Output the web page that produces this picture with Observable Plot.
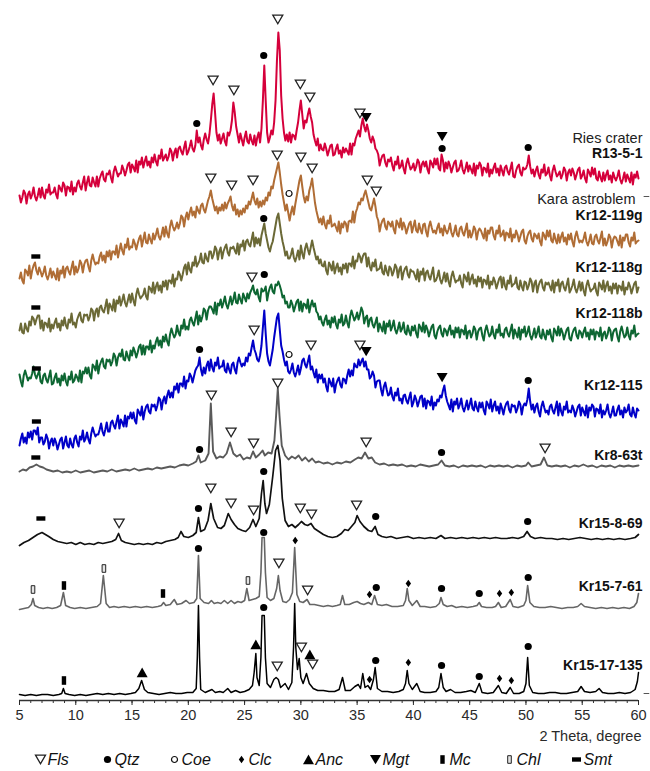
<!DOCTYPE html>
<html><head><meta charset="utf-8">
<script src="https://cdn.jsdelivr.net/npm/d3@7"></script>
<script src="https://cdn.jsdelivr.net/npm/@observablehq/plot@0.6"></script>
<style>body{margin:0;background:#fff;} #chart svg{display:block;}</style>
</head><body><div id="chart"></div>
<script>
// ---------- DATA ----------
// noisy scans: intensity every 0.125 degree from 5 to 60 (2 Theta), one row per degree
const X0 = 5, STEP = 0.125;
const scanR13 = [
 5,-2,3,10,7,-3,6,9, 2,6,13,4,0,5,12,3, 13,5,2,11,8,16,6,8, 8,13,6,2,15,12,9,18, 15,5,14,13,9,19,6,13,
 9,17,20,14,11,18,24,10, 18,24,15,14,23,18,14,24, 14,22,26,29,21,19,27,26, 30,23,18,29,34,29,24,27, 27,35,31,25,30,36,38,28,
 36,33,29,40,28,39,36,43, 33,39,44,35,39,33,43,38, 46,39,35,45,42,51,40,43, 46,40,44,52,49,40,48,52, 43,52,54,49,46,53,59,46,
 49,54,60,52,49,55,70,58, 63,55,51,61,67,61,57,66, 80,96,107,88,68,60,66,57, 62,67,59,55,68,65,70,80, 98,88,74,66,58,67,61,55,
 63,69,59,57,66,60,56,65, 55,63,68,58,72,100,135,100, 68,58,63,70,66,78,100,140, 168,150,105,82,68,60,66,59, 68,58,66,65,61,70,78,90,
 100,86,72,80,78,86,92,84, 78,66,60,55,62,50,56,51, 50,57,52,45,50,55,56,45, 46,52,56,47,50,43,53,48, 52,49,46,57,46,57,55,62,
 66,70,64,75,82,74,69,76, 70,62,58,64,60,52,50,46, 35,41,45,46,38,34,41,39, 43,35,30,39,36,44,32,34, 40,32,27,37,42,36,31,33,
 37,30,34,41,38,28,36,39, 34,39,31,27,40,37,33,42, 36,42,32,30,46,40,29,38, 32,39,35,28,33,38,40,29, 30,34,40,31,27,32,38,29,
 35,31,27,37,25,35,32,38, 35,25,33,32,28,37,24,31, 27,33,37,28,32,25,35,30, 25,33,35,29,26,32,38,24, 23,30,34,36,28,25,33,31,
 32,36,45,34,27,31,24,30, 34,26,22,31,28,36,25,27, 33,25,20,30,35,29,24,26, 29,22,26,33,30,20,28,31, 25,32,28,21,26,31,33,22,
 25,30,22,18,31,28,24,33, 26,32,22,20,29,23,19,28, 20,26,30,21,25,18,28,23, 20,24,30,21,17,22,28,19, 26,22,18,28,16,26,23,29,
 22];
const scanKr119g = [
 2,8,0,-3,11,9,5,15, 2,10,15,18,10,6,13,9, 4,8,14,5,1,6,12,3, 9,5,1,12,0,10,7,14, 3,12,14,9,6,13,19,6,
 14,8,12,20,17,8,16,20, 21,14,9,20,26,20,16,18, 17,24,28,20,25,18,29,24, 30,21,29,29,26,35,23,30, 37,30,26,36,33,42,31,34,
 33,41,37,31,37,42,45,34, 41,48,38,37,46,41,37,47, 41,46,52,44,41,46,53,44, 54,47,43,54,60,54,50,53, 58,52,57,65,63,54,63,68,
 61,68,73,65,69,63,74,70, 67,75,77,71,68,74,80,84, 90,82,76,70,74,67,73,70, 76,70,78,72,77,80,84,75, 70,76,66,71,64,70,66,72,
 68,75,72,79,76,82,88,80, 76,82,73,79,74,80,76,83, 80,88,85,94,92,100,106,112, 118,108,96,86,78,70,76,68, 60,68,74,66,76,84,92,100,
 105,94,84,78,84,80,90,95, 102,90,78,70,64,58,62,56, 64,56,52,60,57,65,54,55, 57,53,49,59,47,57,53,59, 57,49,59,60,58,69,58,68,
 72,78,76,82,80,86,90,84, 78,72,70,76,82,74,64,60, 49,56,60,62,54,51,59,57, 54,59,51,47,60,57,53,62, 51,58,54,47,52,57,59,48,
 54,60,50,48,57,51,47,56, 57,49,44,54,59,53,48,50, 47,53,57,48,52,45,55,50, 47,51,57,48,44,49,55,46, 44,52,54,48,45,51,57,43,
 50,43,47,54,51,41,49,52, 50,46,42,52,40,50,47,53, 53,45,41,50,47,55,44,46, 50,40,48,47,43,52,39,46, 43,50,46,39,44,49,51,40,
 37,44,48,50,42,39,47,45, 42,47,39,35,48,45,41,50, 44,50,40,38,47,41,37,46, 38,44,48,39,43,36,46,41, 47,39,34,44,49,43,38,40,
 38,42,48,39,35,40,46,37, 36,44,46,40,37,43,49,35, 42,35,39,46,43,33,41,44, 43,39,35,45,33,43,40,46, 46,38,34,43,40,48,37,39,
 40];
const scanKr118g = [
 5,12,3,2,12,7,4,14, 10,19,17,11,16,20,20,7, 15,5,13,12,8,17,4,11, 7,13,17,8,12,5,15,10, 18,10,7,16,13,22,11,13,
 8,16,20,23,15,13,21,20, 21,15,19,27,25,15,24,27, 19,28,30,25,23,29,36,22, 32,29,25,36,24,35,32,39, 30,35,41,33,29,35,41,33,
 42,35,30,41,47,41,37,39, 41,47,39,36,49,47,43,53, 42,49,53,45,50,43,54,49, 55,46,55,55,52,61,49,57, 56,64,61,55,61,68,71,61,
 73,66,63,73,70,79,69,72, 75,82,73,72,82,77,74,84, 84,77,81,89,86,76,84,88, 77,84,88,91,83,80,88,87, 89,85,82,92,81,91,89,95,
 85,94,96,91,89,96,103,89, 98,92,97,90,100,106,112,102, 95,88,84,90,94,102,110,118, 122,112,102,94,88,80,84,77, 77,81,87,78,74,79,85,76,
 90,82,77,87,92,86,81,88, 95,88,82,76,79,72,76,70, 69,74,65,61,73,70,65,74, 62,68,72,64,68,61,71,67, 72,63,72,72,69,79,67,75,
 74,82,79,73,79,82,82,69, 78,69,65,73,69,76,65,66, 67,73,63,61,70,64,60,69, 67,60,64,71,68,58,66,69, 56,63,67,69,61,58,66,64,
 64,60,56,66,54,64,61,67, 55,63,65,59,56,62,68,54, 55,59,65,56,52,57,63,54, 62,54,49,59,64,58,53,55, 55,60,52,48,61,58,54,63,
 51,57,61,52,56,49,59,54, 58,48,56,55,51,60,47,54, 51,58,54,47,52,57,59,48, 58,50,46,55,52,60,49,51, 52,58,48,46,55,49,45,54,
 53,46,50,57,54,44,52,55, 43,50,54,56,48,45,53,51, 53,49,45,55,43,53,50,56, 44,52,54,48,45,51,57,43, 46,50,56,47,43,48,54,45,
 53,45,40,50,55,49,44,46, 47,52,44,40,53,50,46,55, 44,50,54,45,49,42,52,47, 52,42,50,49,45,54,41,48, 46,53,49,42,47,52,54,43,
 48];
const scanKr118b = [
 11,4,-1,10,15,10,5,8, 7,12,19,11,7,11,15,4, 2,10,12,6,3,9,15,1, 2,8,12,3,7,0,10,5, 12,4,0,9,6,14,3,5,
 11,8,4,15,3,14,12,18, 12,18,10,7,21,19,15,25, 12,20,24,27,19,17,26,24, 26,20,24,32,29,20,28,32, 29,36,26,25,34,29,25,35,
 30,38,34,28,33,39,41,31, 40,31,39,39,36,45,33,40, 37,44,48,40,45,38,49,44, 51,44,40,51,57,52,48,51, 60,53,50,60,57,66,56,59,
 56,65,68,63,60,67,74,61, 70,64,69,77,75,66,75,79, 79,76,72,83,71,82,80,86, 78,83,89,81,77,83,89,81, 86,93,83,82,91,86,82,92,
 88,84,92,87,93,96,100,93, 91,96,88,84,97,94,95,99, 85,93,98,101,94,92,101,100, 104,100,95,88,90,82,84,78, 78,85,81,74,79,84,86,75,
 84,74,82,81,77,86,73,80, 85,79,82,74,72,66,69,63, 60,66,70,61,65,58,68,63, 69,61,57,66,63,71,60,62, 70,63,58,69,75,70,65,68,
 73,66,71,78,74,62,68,70, 59,66,68,61,58,63,68,54, 62,58,54,64,52,62,59,65, 55,59,65,56,52,57,63,54, 57,63,53,51,60,54,50,59,
 55,60,52,48,61,58,54,63, 53,60,56,49,54,59,61,50, 47,54,58,60,52,49,57,55, 50,56,60,51,55,48,58,53, 58,48,56,55,51,60,47,54,
 55,48,52,59,56,46,54,57, 58,50,45,55,60,54,49,51, 59,51,47,56,53,61,50,52, 48,56,58,52,49,55,61,47, 56,52,48,58,46,56,53,59,
 49,53,59,50,46,51,57,48, 53,59,49,47,56,50,46,55, 51,56,48,44,57,54,50,59, 50,57,53,46,51,56,58,47, 45,52,56,58,50,47,55,53,
 48,54,58,49,53,46,56,51, 56,46,54,53,49,58,45,52, 54,47,51,58,55,45,53,56, 57,49,44,54,59,53,48,50, 58,50,46,55,52,60,49,51,
 52];
const scanKr115 = [
 0,7,12,3,8,2,13,8, 14,6,15,15,11,18,3,8, 8,1,4,11,7,-3,4,7, 0,7,3,-4,1,6,8,-3, 3,9,0,-2,7,1,-2,7,
 10,3,-1,9,6,15,4,7, 13,6,2,12,18,13,9,11, 11,16,22,14,10,16,23,14, 14,23,25,20,17,24,30,17, 26,23,19,30,19,29,27,33,
 27,33,25,22,36,33,30,39, 26,34,39,41,34,32,41,39, 41,35,40,48,46,36,45,49, 42,50,55,48,53,48,59,56, 62,53,62,62,59,69,57,65,
 64,72,69,63,69,75,78,80, 88,76,70,78,72,80,84,75, 86,78,74,83,80,88,77,79, 79,85,75,73,82,76,72,81, 83,76,72,83,88,83,79,82,
 80,88,84,92,90,98,105,96, 92,86,84,90,100,118,135,112, 92,84,80,88,96,108,118,128, 132,116,100,94,86,80,84,74, 72,76,82,73,69,74,80,71,
 77,85,87,81,78,84,90,76, 79,73,68,76,63,71,67,71, 63,67,59,54,67,63,59,67, 53,61,65,68,61,58,67,66, 62,70,76,69,75,70,82,79,
 78,86,80,84,87,79,84,76, 76,67,69,74,70,58,64,65, 65,56,50,59,63,56,50,51, 58,49,45,53,50,57,45,47, 42,50,51,45,42,48,53,39,
 43,50,46,39,44,49,50,39, 47,37,45,44,40,49,36,43, 40,46,44,50,48,55,60,50, 44,40,36,46,34,44,41,47, 37,41,47,38,34,39,45,36,
 41,47,37,35,44,38,34,43, 38,43,35,31,44,41,37,46, 34,40,44,35,39,32,42,37, 31,38,42,44,36,33,41,39, 40,33,37,44,41,31,39,42,
 40,46,57,44,36,41,33,39, 42,34,29,39,44,38,33,35, 31,39,41,35,32,38,44,30, 42,34,30,39,36,44,33,35, 33,40,36,29,34,39,41,30,
 38,34,30,40,28,38,35,41, 39,29,37,36,32,41,28,35, 31,35,41,32,28,33,39,30, 30,36,40,31,35,28,38,33, 35,41,31,29,38,32,28,37,
 35];

// crystalline scans: [2 Theta, intensity]
const scanKr8 = [[5,4],[5.3,6],[5.6,5],[5.9,8],[6.2,9],[6.5,11],[6.8,9],[7.1,8],[7.4,6],[7.7,5],[8,4],[8.4,5],[8.8,3],[9.2,4],[9.6,3],[10,5],[10.4,3],[10.8,4],[11.2,5],[11.6,3],[12,4],[12.4,5],[12.8,4],[13.2,6],[13.6,4],[14,5],[14.4,6],[14.8,5],[15.2,7],[15.6,5],[16,6],[16.4,7],[16.8,6],[17.2,8],[17.6,7],[18,8],[18.4,9],[18.8,8],[19.2,10],[19.6,11],[20,10],[20.4,12],[20.7,14],[20.9,20],[21.1,13],[21.5,15],[21.8,22],[22.0,72],[22.2,24],[22.5,17],[22.8,19],[23.1,18],[23.4,22],[23.7,33],[24.0,22],[24.3,19],[24.6,21],[24.9,16],[25.2,18],[25.5,17],[25.75,24],[26.0,18],[26.3,21],[26.6,25],[26.8,20],[27.1,23],[27.4,22],[27.65,35],[27.8,60],[27.95,87],[28.1,60],[28.3,30],[28.6,20],[28.9,16],[29.2,19],[29.5,17],[29.8,20],[30.1,15],[30.4,18],[30.7,14],[31.0,17],[31.3,13],[31.6,14],[32,12],[32.4,13],[32.8,11],[33.2,13],[33.6,12],[34,14],[34.4,13],[34.8,16],[35.1,18],[35.4,17],[35.7,23],[36.0,17],[36.3,18],[36.6,13],[37,11],[37.4,12],[37.8,10],[38.2,11],[38.6,10],[39,11],[39.4,9],[39.8,10],[40.2,9],[40.6,11],[41,10],[41.4,9],[41.8,10],[42.2,11],[42.5,15],[42.8,10],[43.2,9],[43.6,10],[44,8],[44.4,10],[44.8,9],[45.2,10],[45.6,9],[46,10],[46.4,8],[46.8,10],[47.2,9],[47.6,10],[48,9],[48.4,10],[48.8,8],[49.2,10],[49.6,9],[50,10],[50.2,13],[50.5,9],[50.9,10],[51.3,11],[51.6,18],[51.9,10],[52.3,9],[52.7,10],[53.1,9],[53.5,10],[53.9,8],[54.3,10],[54.7,9],[55.1,11],[55.5,9],[55.9,10],[56.3,8],[56.7,10],[57.1,9],[57.5,10],[57.9,8],[58.3,10],[58.7,9],[59.1,10],[59.5,9],[60,10]];
const scanKr15_8 = [[5,3],[5.4,6],[5.8,8],[6.2,11],[6.6,14],[7.0,16],[7.3,14],[7.6,12],[8.0,9],[8.4,7],[8.8,6],[9.2,5],[9.6,6],[10,4],[10.4,6],[10.8,4],[11.2,5],[11.6,4],[12,6],[12.4,5],[12.8,6],[13.2,7],[13.55,9],[13.8,15],[14.05,8],[14.4,6],[14.8,5],[15.2,4],[15.6,5],[16,4],[16.4,5],[16.8,4],[17.2,6],[17.6,5],[18,7],[18.4,8],[18.8,9],[19.1,11],[19.35,17],[19.6,12],[20,11],[20.4,13],[20.7,16],[20.9,31],[21.1,17],[21.45,19],[21.75,28],[22.0,45],[22.25,30],[22.6,21],[22.9,20],[23.2,23],[23.55,35],[23.8,29],[24.1,24],[24.4,20],[24.8,18],[25.1,17],[25.45,21],[25.75,29],[26.0,22],[26.3,30],[26.5,55],[26.65,68],[26.8,45],[26.95,35],[27.2,44],[27.5,72],[27.75,98],[27.95,103],[28.15,88],[28.35,50],[28.6,28],[28.9,22],[29.2,24],[29.5,21],[29.8,24],[30.05,27],[30.35,24],[30.6,23],[30.9,25],[31.2,20],[31.6,17],[32,14],[32.4,12],[32.8,11],[33.2,12],[33.6,15],[33.9,19],[34.2,18],[34.5,22],[34.8,26],[35.0,33],[35.25,27],[35.6,22],[36.0,18],[36.3,17],[36.6,22],[36.85,14],[37.2,12],[37.6,11],[38,12],[38.5,10],[39,11],[39.5,12],[40,10],[40.5,11],[41,10],[41.5,11],[42,10],[42.45,13],[42.8,10],[43.3,11],[43.8,10],[44.3,11],[44.8,10],[45.3,11],[45.8,10],[46.3,11],[46.8,10],[47.3,11],[47.8,10],[48.3,10],[48.8,11],[49.3,10],[49.8,12],[50.1,17],[50.4,12],[50.8,10],[51.3,11],[51.8,10],[52.3,10],[52.8,9],[53.3,10],[53.8,9],[54.3,10],[54.8,11],[55.3,10],[55.8,9],[56.3,10],[56.8,9],[57.3,10],[57.8,9],[58.3,10],[58.8,9],[59.3,10],[59.7,11],[60,14]];
const scanKr15_7 = [[5,3],[5.4,4],[5.8,5],[6.05,8],[6.2,14],[6.35,7],[6.7,5],[7.1,4],[7.5,5],[7.9,4],[8.3,5],[8.65,7],[8.9,20],[9.1,7],[9.5,5],[9.9,4],[10.4,5],[10.9,4],[11.4,5],[11.9,6],[12.2,9],[12.45,37],[12.7,9],[13.0,5],[13.4,6],[13.8,5],[14.3,6],[14.8,5],[15.3,6],[15.8,5],[16.3,6],[16.8,5],[17.3,6],[17.6,7],[17.8,10],[18.0,7],[18.4,8],[18.75,13],[19.0,8],[19.4,9],[19.8,12],[20.1,9],[20.5,10],[20.75,14],[20.9,57],[21.05,14],[21.4,10],[21.8,9],[22.05,12],[22.3,9],[22.6,10],[22.9,9],[23.2,12],[23.5,9],[23.8,12],[24.1,9],[24.4,11],[24.7,10],[25.0,12],[25.2,24],[25.4,12],[25.7,13],[26.0,14],[26.3,16],[26.45,40],[26.55,75],[26.75,75],[26.85,40],[27.0,15],[27.3,12],[27.6,14],[27.85,24],[28.0,37],[28.15,22],[28.4,11],[28.7,10],[29.0,13],[29.25,20],[29.45,65],[29.65,18],[29.9,11],[30.2,10],[30.55,13],[30.8,8],[31.2,8],[31.6,7],[32.0,6],[32.4,7],[32.8,6],[33.2,7],[33.5,8],[33.7,17],[33.9,8],[34.3,8],[34.7,10],[35.0,11],[35.3,9],[35.6,8],[36.0,10],[36.3,8],[36.55,17],[36.8,8],[37.2,7],[37.6,8],[38.1,6],[38.6,6],[39.1,7],[39.3,12],[39.45,24],[39.6,12],[39.9,7],[40.3,12],[40.6,6],[41.0,6],[41.5,5],[42.0,6],[42.3,9],[42.45,15],[42.65,8],[43.0,6],[43.4,7],[43.8,5],[44.3,6],[44.8,5],[45.3,6],[45.65,7],[45.85,10],[46.05,6],[46.5,5],[47.0,5],[47.3,6],[47.55,10],[47.8,5],[48.2,6],[48.6,13],[48.85,6],[49.3,5],[49.8,7],[50.0,12],[50.15,27],[50.35,10],[50.7,6],[51.2,5],[51.7,5],[52.2,6],[52.7,5],[53.2,4],[53.7,5],[54.2,5],[54.6,6],[54.9,9],[55.2,6],[55.7,5],[56.2,4],[56.7,5],[57.2,4],[57.7,5],[58.2,4],[58.7,5],[59.2,4],[59.6,6],[59.85,10],[60,19]];
const scanKr15_17 = [[5,3],[5.5,2],[6,3],[6.5,2],[7,3],[7.5,3],[8,2],[8.5,3],[8.75,4],[8.9,9],[9.05,4],[9.4,3],[9.9,2],[10.4,3],[10.9,2],[11.4,3],[11.9,4],[12.4,3],[12.9,4],[13.4,3],[13.9,4],[14.4,3],[14.9,4],[15.3,5],[15.6,9],[15.85,17],[16.1,8],[16.4,5],[16.9,4],[17.4,3],[17.9,4],[18.4,5],[18.9,4],[19.4,4],[19.9,5],[20.4,5],[20.7,9],[20.8,40],[20.9,92],[21.0,40],[21.1,8],[21.5,5],[22.1,8],[22.4,5],[22.8,6],[23.1,5],[23.5,9],[23.8,5],[24.2,7],[24.6,5],[25.0,6],[25.4,8],[25.7,12],[25.85,25],[26.0,44],[26.1,20],[26.3,12],[26.45,40],[26.55,82],[26.75,82],[26.85,40],[27.0,14],[27.3,10],[27.6,18],[27.8,20],[28.0,18],[28.2,10],[28.6,14],[28.9,8],[29.2,15],[29.35,50],[29.45,94],[29.55,50],[29.7,28],[29.85,39],[30.0,20],[30.2,14],[30.5,24],[30.75,14],[31.1,9],[31.5,7],[32.0,7],[32.5,6],[33.0,6],[33.4,8],[33.7,20],[33.95,7],[34.4,7],[34.8,11],[35.1,13],[35.3,9],[35.5,24],[35.7,10],[35.95,12],[36.2,8],[36.45,18],[36.6,30],[36.8,9],[37.2,6],[37.7,6],[38.2,5],[38.7,6],[39.1,8],[39.3,14],[39.45,27],[39.6,14],[39.9,8],[40.3,14],[40.6,6],[41.0,5],[41.5,5],[42.0,6],[42.25,10],[42.45,24],[42.65,10],[42.9,6],[43.3,8],[43.7,5],[44.2,5],[44.7,6],[45.1,7],[45.5,5],[45.85,14],[46.1,5],[46.6,4],[47.1,5],[47.55,12],[47.85,5],[48.25,4],[48.6,10],[48.9,4],[49.4,4],[49.8,6],[50.0,14],[50.15,40],[50.3,12],[50.6,5],[51.1,4],[51.6,4],[52.1,5],[52.6,5],[53.1,4],[53.6,4],[54.1,5],[54.6,6],[54.9,11],[55.2,6],[55.7,5],[56.2,6],[56.5,9],[56.8,5],[57.3,4],[57.8,4],[58.3,5],[58.8,4],[59.3,5],[59.7,8],[59.9,16],[60,25]];

const seriesNames   = ["R13-5-1","Kr12-119g","Kr12-118g","Kr12-118b","Kr12-115","Kr8-63t","Kr15-8-69","Kr15-7-61","Kr15-17-135"];
const seriesOffsets = [500, 420, 365, 315, 255, 225, 152, 88, 3];
const seriesColors  = ["#d5003b","#b06d35","#6b6936","#0d6632","#0000c8","#5a5a5a","#111111","#666666","#000000"];
const seriesWidths  = [2.0, 2.0, 2.0, 2.0, 2.0, 1.9, 1.7, 1.6, 1.5];
const seriesScans   = [scanR13, scanKr119g, scanKr118g, scanKr118b, scanKr115, scanKr8, scanKr15_8, scanKr15_7, scanKr15_17];

// phase markers: [phase, 2 Theta, stacked intensity]
const marksR13 = [["Fls",27.95,681],["Qtz",26.7,645],["Fls",22.2,620],["Fls",24.05,610],["Fls",29.95,616],["Fls",30.8,603],["Qtz",20.75,577],["Fls",35.25,587],["Mgt",35.8,583],["Mgt",42.55,564],["Qtz",42.55,552],["Qtz",50.2,553]];
const marksKr119g = [["Fls",22.0,522],["Fls",23.85,515],["Fls",25.75,520],["Fls",27.9,545],["Fls",30.0,543],["Fls",31.0,532],["Coe",28.95,507],["Fls",35.9,520],["Fls",36.7,509],["Smt",6.45,444]];
const marksKr118g = [["Qtz",26.7,482],["Smt",6.45,393]];
const marksKr118b = [["Fls",25.65,423],["Qtz",26.75,426],["Smt",6.5,332]];
const marksKr115 = [["Qtz",21.0,351],["Fls",25.85,370],["Coe",28.95,346],["Fls",30.9,355],["Fls",35.25,355],["Mgt",35.8,349],["Mgt",42.55,323],["Qtz",50.2,320],["Smt",6.5,279]];
const marksKr8 = [["Smt",6.45,243],["Qtz",21.0,251],["Fls",22.05,305],["Fls",23.8,268],["Fls",25.8,257],["Fls",27.95,317],["Fls",35.8,258],["Qtz",42.5,248],["Fls",51.7,252]];
const marksKr15_8 = [["Smt",6.9,182],["Fls",13.85,177],["Qtz",20.9,192],["Fls",22.0,212],["Fls",23.8,197],["Fls",25.8,190],["Qtz",26.7,229],["Fls",29.95,192],["Fls",30.95,186],["Fls",34.95,195],["Qtz",36.65,184],["Qtz",50.15,179]];
const marksKr15_7 = [["Chl",6.2,111],["Mc",8.95,115],["Chl",12.5,132],["Mc",17.75,107],["Qtz",20.9,152],["Chl",25.3,120],["Qtz",26.7,168],["Fls",28.05,137],["Clc",29.5,160],["Fls",30.6,110],["Clc",36.1,106],["Qtz",36.7,113],["Clc",39.55,117],["Qtz",42.5,112],["Qtz",45.85,107],["Clc",47.65,107],["Clc",48.7,108],["Qtz",50.2,123]];
const marksKr15_17 = [["Mc",8.95,20],["Anc",15.9,28],["Anc",26.0,56],["Qtz",26.7,93],["Fls",27.9,34],["Fls",30.05,53],["Anc",30.8,46],["Fls",31.05,36],["Clc",36.1,21],["Qtz",36.65,40],["Clc",39.55,38],["Qtz",42.5,35],["Qtz",45.85,24],["Clc",47.65,22],["Clc",48.7,20],["Qtz",50.2,54]];

// sample labels
const labelBold = [["R13-5-1",547],["Kr12-119g",485],["Kr12-118g",433],["Kr12-118b",387],["Kr12-115",315],["Kr8-63t",245],["Kr15-8-69",177],["Kr15-7-61",114],["Kr15-17-135",35]];
const labelRies = [["Ries crater",562]];
const labelKara = [["Kara astroblem",501]];
const refTicks = [504, 7];
const xTicksMajor = [5,10,15,20,25,30,35,40,45,50,55,60];
const xTicksMinor = d3.range(5, 61, 1);
const xTitle = "2 Theta, degree";
const legendNames = ["Fls","Qtz","Coe","Clc","Anc","Mgt","Mc","Chl","Smt"];

// ---------- SYMBOLS ----------
const triDown = {draw(c){c.moveTo(-5,-4.3);c.lineTo(5,-4.3);c.lineTo(0,4.3);c.closePath();}};
const triDownBig = {draw(c){c.moveTo(-5.5,-4.5);c.lineTo(5.5,-4.5);c.lineTo(0,4.8);c.closePath();}};
const triUp = {draw(c){c.moveTo(-5.5,4.8);c.lineTo(5.5,4.8);c.lineTo(0,-5);c.closePath();}};
const circ = {draw(c){c.moveTo(3.6,0);c.arc(0,0,3.6,0,2*Math.PI);}};
const ring = {draw(c){c.moveTo(3,0);c.arc(0,0,3,0,2*Math.PI);}};
const diamond = {draw(c){c.moveTo(0,-3.8);c.lineTo(2.7,0);c.lineTo(0,3.8);c.lineTo(-2.7,0);c.closePath();}};
const vRect = {draw(c){c.rect(-2.2,-4.3,4.4,8.6);}};
const vRectS = {draw(c){c.rect(-1.8,-3.8,3.6,7.6);}};
const hRect = {draw(c){c.rect(-4.5,-2.2,9,4.4);}};
const SYM = {
  Fls: {symbol: triDown, fill: "white", stroke: "#222", strokeWidth: 1.3},
  Qtz: {symbol: circ, fill: "#000"},
  Coe: {symbol: ring, fill: "white", stroke: "#111", strokeWidth: 1.2},
  Clc: {symbol: diamond, fill: "#000"},
  Anc: {symbol: triUp, fill: "#000"},
  Mgt: {symbol: triDownBig, fill: "#000"},
  Mc:  {symbol: vRect, fill: "#000"},
  Chl: {symbol: vRectS, fill: "#e4e4e4", stroke: "#222", strokeWidth: 1},
  Smt: {symbol: hRect, fill: "#000"}
};

// ---------- BUILD ----------
const allMarks = [marksR13, marksKr119g, marksKr118g, marksKr118b, marksKr115, marksKr8, marksKr15_8, marksKr15_7, marksKr15_17]
  .flat().map(([m, x, y]) => ({m, x, y}));

const lineMarks = seriesNames.map((name, i) => {
  const scan = seriesScans[i], off = seriesOffsets[i];
  const rows = Array.isArray(scan[0])
    ? scan.map(([x, v]) => ({x, y: off + v}))
    : scan.map((v, k) => ({x: X0 + k * STEP, y: off + v}));
  return Plot.line(rows, {x: "x", y: "y", stroke: seriesColors[i], strokeWidth: seriesWidths[i], strokeLinejoin: "round"});
});

const dotMarks = legendNames.map(t => Plot.dot(allMarks.filter(d => d.m === t), {x: "x", y: "y", ...SYM[t]}));

const FONT = "'Liberation Sans', Arial, Helvetica, sans-serif";

const main = Plot.plot({
  width: 650, height: 747,
  marginTop: 0, marginBottom: 47, marginLeft: 19, marginRight: 12,
  style: {fontFamily: FONT, background: "white", overflow: "visible"},
  x: {domain: [5, 60]},
  y: {domain: [0, 700], axis: null},
  marks: [
    ...lineMarks,
    ...dotMarks,
    Plot.ruleY([0], {stroke: "#333", strokeWidth: 1.4}),
    Plot.axisX({ticks: xTicksMinor, tickSize: 3, tickFormat: () => "", label: null, color: "#333"}),
    Plot.axisX({ticks: xTicksMajor, tickSize: 5, tickPadding: 4, fontSize: 14.5, label: null, color: "#2a2a2a", tickFormat: d => String(d)}),
    Plot.text([xTitle], {x: 60, y: -36, text: d => d, textAnchor: "end", dx: 3, fontSize: 14.5, fill: "#2a2a2a"}),
    Plot.text(labelBold, {x: 60, y: d => d[1], text: d => d[0], textAnchor: "end", dx: 4, fontSize: 14, fontWeight: "bold", fill: "#111"}),
    Plot.text(labelRies, {x: 60, y: d => d[1], text: d => d[0], textAnchor: "end", dx: 4, fontSize: 14.5, fill: "#222"}),
    Plot.text(labelKara, {x: 60, y: d => d[1], text: d => d[0], textAnchor: "end", dx: -3, fontSize: 14.5, fill: "#222"}),
    Plot.ruleY(refTicks, {x1: 60.5, x2: 61, stroke: "#555", strokeWidth: 1})
  ]
});

const legend = Plot.plot({
  width: 650, height: 24, margin: 0,
  style: {fontFamily: FONT, background: "white", overflow: "visible"},
  x: {type: "point", domain: legendNames, range: [39, 576], padding: 0, axis: null},
  marks: [
    ...legendNames.map(t => Plot.dot([t], {x: d => d, ...SYM[t]})),
    Plot.text(legendNames, {x: d => d, text: d => d, dx: 7, textAnchor: "start", fontStyle: "italic", fontSize: 16, fill: "#111"})
  ]
});

const root = document.getElementById("chart");
root.appendChild(main);
root.appendChild(legend);
</script></body></html>
